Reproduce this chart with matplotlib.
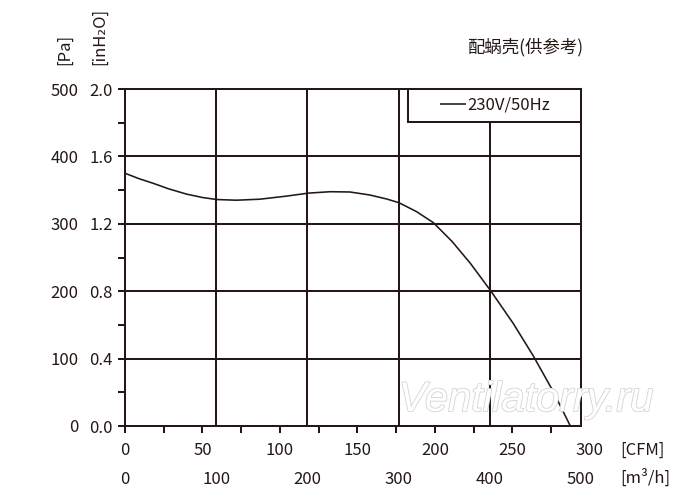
import matplotlib
matplotlib.use("Agg")
import matplotlib.pyplot as plt
import matplotlib.patheffects as pe
from matplotlib.patches import Rectangle
from matplotlib.ticker import MultipleLocator, FixedLocator, FormatStrFormatter

plt.rcParams["font.family"] = ["Noto Sans CJK SC", "DejaVu Sans"]

INK = "#231815"
FS = 12
CFM_PER_M3H = 0.588578
PA_PER_INH2O = 250.0

# curve: airflow [CFM] vs static pressure [Pa]
flow_cfm = [0, 9, 18.3, 28, 39.8, 50, 59.2, 72, 87, 104, 118.3, 132.3, 145.2,
            158.1, 168.9, 176.8, 188.2, 199, 211, 223, 236.2, 250.6, 263.5,
            276.4, 287.4]
pressure_pa = [375, 367, 360, 352, 344, 339, 336, 335, 336.5, 341, 345.5, 347.6, 347.2,
               342.7, 336.8, 331.3, 318, 301.7, 274, 241, 200, 152, 104,
               51, 0]
series_label = "230V/50Hz"

cfm_ticks = [0, 50, 100, 150, 200, 250, 300]
m3h_ticks = [0, 100, 200, 300, 400, 500]
m3h_grid = [100, 200, 300, 400]
pa_ticks = [0, 100, 200, 300, 400, 500]
pa_grid = [100, 200, 300, 400]
inh2o_ticks = [0.0, 0.4, 0.8, 1.2, 1.6, 2.0]

W, H = 700, 503
fig = plt.figure(figsize=(W / 100, H / 100), dpi=100)
ax = fig.add_axes([125 / W, 1 - 426 / H, 456 / W, 337 / H])

x_max = m3h_ticks[-1] * CFM_PER_M3H
ax.set_xlim(0, x_max)
ax.set_ylim(pa_ticks[0], pa_ticks[-1])

for p in pa_grid:
    ax.axhline(p, color=INK, lw=1.45, zorder=1)
for q in m3h_grid:
    ax.axvline(q * CFM_PER_M3H, color=INK, lw=1.45, zorder=1)

ax.plot(flow_cfm, pressure_pa, color=INK, lw=1.15, label=series_label, zorder=3,
        solid_capstyle="butt")

for s in ax.spines.values():
    s.set_color(INK)
    s.set_linewidth(1.45)

# primary axes: Pa (left), CFM (bottom)
ax.xaxis.set_major_locator(FixedLocator([t for t in cfm_ticks if t <= x_max]))
ax.xaxis.set_minor_locator(MultipleLocator(25))
ax.yaxis.set_major_locator(FixedLocator(pa_ticks))
ax.yaxis.set_minor_locator(MultipleLocator(50))
ax.tick_params(which="both", direction="out", length=5, width=1.45, color=INK,
               labelsize=FS, labelcolor=INK)
ax.tick_params(axis="y", which="major", pad=28.5)
ax.tick_params(axis="x", which="major", pad=6.5)

# tick label beyond the frame (300 CFM)
for t in cfm_ticks:
    if t > x_max:
        ax.annotate(str(t), xy=(t, 0), xycoords=("data", "axes fraction"),
                    xytext=(0, -11.5), textcoords="offset points",
                    ha="center", va="top", fontsize=FS, color=INK)

# secondary axes: inH2O (left) and m3/h (bottom)
sy = ax.secondary_yaxis("left", functions=(lambda p: p / PA_PER_INH2O,
                                           lambda v: v * PA_PER_INH2O))
sy.set_yticks(inh2o_ticks)
sy.yaxis.set_major_formatter(FormatStrFormatter("%.1f"))
sy.tick_params(length=0, pad=9, labelsize=FS, labelcolor=INK)
sy.spines["left"].set_visible(False)

sx = ax.secondary_xaxis("bottom", functions=(lambda c: c / CFM_PER_M3H,
                                             lambda m: m * CFM_PER_M3H))
sx.set_xticks(m3h_ticks)
sx.tick_params(length=0, pad=32.5, labelsize=FS, labelcolor=INK)
sx.spines["bottom"].set_visible(False)

# legend box in the upper right corner
box = Rectangle((0.6213, 0.903), 0.3787, 0.097, transform=ax.transAxes,
                facecolor="white", edgecolor=INK, lw=1.45, zorder=4, clip_on=False)
ax.add_patch(box)
leg = ax.legend(loc="center left", bbox_to_anchor=(0.6908, 0.9525), frameon=False,
                borderaxespad=0, borderpad=0, fontsize=FS, handlelength=1.56,
                handletextpad=0.05, labelcolor=INK)
leg.set_zorder(5)

# unit labels
fig.text(65 / W, 1 - 65 / H, "[Pa]", rotation=90, ha="center", va="bottom",
         fontsize=FS, color=INK)
fig.text(100 / W, 1 - 65 / H, "[inH\u2082O]", rotation=90, ha="center", va="bottom",
         fontsize=FS, color=INK)
fig.text(620 / W, 1 - 450 / H, "[CFM]", ha="left", va="center", fontsize=FS, color=INK)
fig.text(620 / W, 1 - 478 / H, "[m\u00b3/h]", ha="left", va="center", fontsize=FS, color=INK)
fig.text(583 / W, 1 - 47 / H, "配蜗壳(供参考)", ha="right", va="center",
         fontsize=12.5, color=INK)

# watermark
fig.text(526 / W, 1 - 400 / H, "Ventilatorry.ru", ha="center", va="center",
         fontsize=30, family="Liberation Sans", style="italic", color="white",
         zorder=10, path_effects=[pe.withStroke(linewidth=1.2, foreground="#d4d4d4")])

fig.savefig("out.png", dpi=100)
